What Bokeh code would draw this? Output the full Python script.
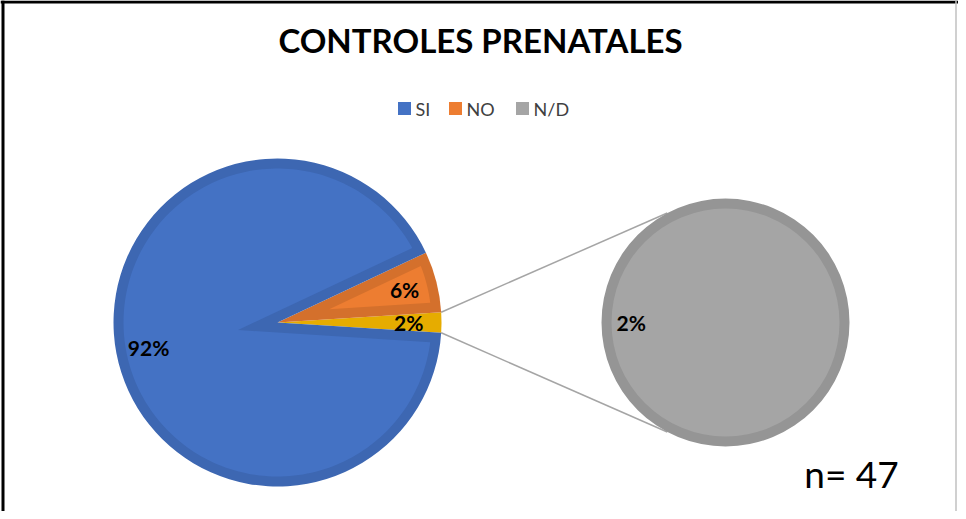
import numpy as np
from bokeh.plotting import figure
from bokeh.models import Range1d, Span
from bokeh.core.properties import value
from bokeh.embed import file_html
from bokeh.resources import INLINE

# ---------------- data ----------------
title_text = "CONTROLES PRENATALES"
categories = ["SI", "NO", "N/D"]
percents = [92, 6, 2]
secondary_categories = ["N/D"]
secondary_percents = [2]
n_text = "n= 47"

# ---------------- styles ----------------
light = {"SI": "#4472C4", "NO": "#ED7D31", "N/D": "#A5A5A5"}
dark = {"SI": "#3D67B2", "NO": "#D4702C", "N/D": "#959595"}
other_color = "#E6AC00"
FONT = value("Lato")

W, H = 958, 511
p = figure(width=W, height=H, x_range=Range1d(0, W), y_range=Range1d(0, H),
           output_backend="svg", toolbar_location=None, min_border=0)
p.axis.visible = False
p.grid.visible = False
p.outline_line_color = None
p.background_fill_color = "white"

# frame lines (left / top black, right light gray)
p.add_layout(Span(location=2.5, dimension="height", line_color="black", line_width=3))
p.add_layout(Span(location=H - 1.5, dimension="width", line_color="black", line_width=3))
p.add_layout(Span(location=955.5, dimension="height", line_color="#C0C0C0", line_width=1.5))

# ---------------- geometry ----------------
cx, cy, R = 277.0, 189.0, 164.0      # main pie
c2x, c2y, R2 = 725.0, 189.0, 124.0   # secondary pie
band = 10.0

total = float(sum(percents))
other = float(sum(secondary_percents))
a = -np.pi * other / total
slices = []  # (name, start, end)
order = [("other", other), ("NO", percents[1]), ("SI", percents[0])]
for name, v in order:
    span_ang = 2 * np.pi * v / total
    slices.append((name, a, a + span_ang))
    a += span_ang


def inset_polygon(x0, y0, r, a0, a1, d):
    half = (a1 - a0) / 2.0
    bis = (a0 + a1) / 2.0
    k = d / np.sin(half)
    nx, ny = x0 + k * np.cos(bis), y0 + k * np.sin(bis)
    t = np.sqrt((r - d) ** 2 - d ** 2)
    delta = np.arctan2(d, t)
    arc = np.linspace(a0 + delta, a1 - delta, 200)
    xs = [nx] + list(x0 + (r - d) * np.cos(arc)) + [nx]
    ys = [ny] + list(y0 + (r - d) * np.sin(arc)) + [ny]
    return xs, ys


# connector lines (drawn below pies)
o_start, o_end = slices[0][1], slices[0][2]
tang = np.deg2rad(118)
p.segment(x0=[cx + R * np.cos(o_end), cx + R * np.cos(o_start)],
          y0=[cy + R * np.sin(o_end), cy + R * np.sin(o_start)],
          x1=[c2x + R2 * np.cos(tang), c2x + R2 * np.cos(-tang)],
          y1=[c2y + R2 * np.sin(tang), c2y + R2 * np.sin(-tang)],
          line_color="#A5A5A5", line_width=1.5)

# main pie
for name, s, e in slices:
    col = other_color if name == "other" else dark[name]
    p.wedge(x=cx, y=cy, radius=R, start_angle=s, end_angle=e,
            fill_color=col, line_color=None)
for name, s, e in slices:
    if name == "other":
        continue
    xs, ys = inset_polygon(cx, cy, R, s, e, band)
    p.patch(xs, ys, fill_color=light[name], line_color=None)

# secondary pie
sa = 0.0
sec_slices = []
for name, v in zip(secondary_categories, secondary_percents):
    span_ang = 2 * np.pi * v / other
    sec_slices.append((name, sa, sa + span_ang))
    p.wedge(x=c2x, y=c2y, radius=R2, start_angle=sa, end_angle=sa + span_ang,
            fill_color=dark[name], line_color=None)
    p.wedge(x=c2x, y=c2y, radius=R2 - band, start_angle=sa, end_angle=sa + span_ang,
            fill_color=light[name], line_color=None)
    sa += span_ang

# labels
lab_x, lab_y, lab_t = [], [], []
vals = {"SI": percents[0], "NO": percents[1], "other": other}
for name, s, e in slices:
    bis = (s + e) / 2
    lab_x.append(cx + 0.8 * R * np.cos(bis))
    lab_y.append(cy + 0.8 * R * np.sin(bis))
    lab_t.append(f"{int(vals[name])}%")
for (name, s, e), v in zip(sec_slices, secondary_percents):
    bis = np.pi
    lab_x.append(c2x + 0.76 * R2 * np.cos(bis))
    lab_y.append(c2y + 0.76 * R2 * np.sin(bis))
    lab_t.append(f"{v}%")
p.text(x=lab_x, y=lab_y, text=lab_t, text_font=FONT, text_font_style="bold",
       text_font_size=value("21px"), text_color="black",
       text_align="center", text_baseline="middle")

# title
p.text(x=[480], y=[472], text=[title_text], text_font=FONT, text_font_style="bold",
       text_font_size=value("33px"), text_color="black",
       text_align="center", text_baseline="middle")

# legend
leg_sq_x = [404, 455, 522]
leg_y = 403
p.scatter(x=leg_sq_x, y=[leg_y] * 3, marker="square", size=13,
          fill_color=[light[c] for c in categories], line_color=None)
p.text(x=[x + 11 for x in leg_sq_x], y=[leg_y] * 3, text=categories, text_font=FONT,
       text_font_size=value("18px"), text_color="#404040",
       text_align="left", text_baseline="middle")

# n label
p.text(x=[851], y=[38], text=[n_text], text_font=FONT,
       text_font_size=value("37px"), text_color="black",
       text_align="center", text_baseline="middle")

open("out.html", "w").write(file_html(p, INLINE))
